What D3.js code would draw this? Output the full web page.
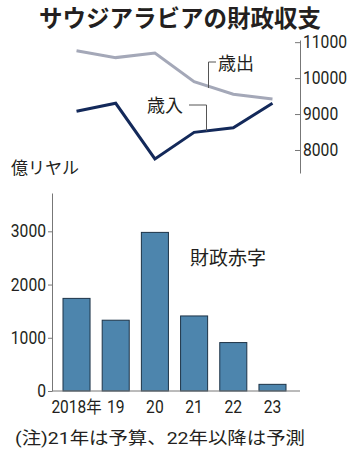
<!DOCTYPE html>
<html><head><meta charset="utf-8">
<script src="https://cdn.jsdelivr.net/npm/d3@7"></script>
<style>
body{margin:0;background:#fff;}
text{font-family:Roboto,"Noto Sans CJK JP",sans-serif;fill:#231f20;}
.cjk{font-family:"Noto Sans CJK JP",sans-serif;}
</style></head><body>
<svg id="c" width="359" height="455"></svg>
<script>
const years = ["2018","2019","2020","2021","2022","2023"];
const yearLabels = ["2018年","19","20","21","22","23"];
const expenditure = [10760, 10570, 10700, 9900, 9550, 9420];
const revenue = [9080, 9300, 7750, 8490, 8620, 9300];
const deficit = [1740, 1330, 2980, 1410, 910, 125];
const topTicks = [8000, 9000, 10000, 11000];
const barTicks = [0, 1000, 2000, 3000];

const svg = d3.select("#c");
const fontTick = 17.5;
const digitW = 8.8;
// narrow digits: compress each label to the reference width
function narrow(sel){
  sel.each(function(){
    const t = d3.select(this), s = t.text();
    let w = 0;
    for (const ch of s) w += /[0-9]/.test(ch) ? digitW : 15;
    t.attr("textLength", w).attr("lengthAdjust","spacingAndGlyphs");
  });
}

// title
svg.append("text").attr("class","cjk").attr("x",180).attr("y",27)
  .attr("text-anchor","middle").attr("font-size",23.5).attr("font-weight","bold")
  .text("サウジアラビアの財政収支");

const x = d3.scaleBand().domain(years).range([57, 292]).paddingInner(0.31).paddingOuter(0.153);
const cx = d => x(d) + x.bandwidth()/2;

// top line chart
const yTop = d3.scaleLinear().domain([7360, 11060]).range([173, 40]);
const axTop = svg.append("g").attr("transform","translate(300,0)")
  .call(d3.axisRight(yTop).tickValues(topTicks).tickSizeInner(-5).tickSizeOuter(0).tickPadding(3).tickFormat(d3.format("d")));
axTop.select(".domain").attr("stroke","#777");
axTop.selectAll(".tick line").attr("stroke","#777");
axTop.selectAll(".tick text").attr("font-size",fontTick).attr("fill","#231f20").attr("font-family",null).call(narrow);

const line = d3.line().x((d,i)=>cx(years[i])).y(d=>yTop(d));
svg.append("path").datum(expenditure).attr("d",line).attr("fill","none")
  .attr("stroke","#a4a8b8").attr("stroke-width",3).attr("stroke-linejoin","miter");
svg.append("path").datum(revenue).attr("d",line).attr("fill","none")
  .attr("stroke","#13295a").attr("stroke-width",3).attr("stroke-linejoin","miter");

// labels with leaders
svg.append("text").attr("class","cjk").attr("x",218).attr("y",70).attr("font-size",18).text("歳出");
svg.append("path").attr("d","M216,62H208.5V88").attr("fill","none").attr("stroke","#555").attr("stroke-width",1);
svg.append("text").attr("class","cjk").attr("x",147).attr("y",112).attr("font-size",18).text("歳入");
svg.append("path").attr("d","M189,105H206.5V131").attr("fill","none").attr("stroke","#555").attr("stroke-width",1);

// unit
svg.append("text").attr("class","cjk").attr("x",11).attr("y",174).attr("font-size",17).text("億リヤル");

// bar chart
const yBar = d3.scaleLinear().domain([0, 3720]).range([391, 193]);
svg.selectAll("rect.bar").data(deficit).join("rect").attr("class","bar")
  .attr("x",(d,i)=>x(years[i])).attr("width",x.bandwidth())
  .attr("y",d=>yBar(d)).attr("height",d=>yBar(0)-yBar(d))
  .attr("fill","#4d85ad").attr("stroke","#1d3347").attr("stroke-width",1);

const axBar = svg.append("g").attr("transform","translate(52,0)")
  .call(d3.axisLeft(yBar).tickValues(barTicks).tickSizeInner(4).tickSizeOuter(0).tickPadding(2).tickFormat(d3.format("d")));
axBar.select(".domain").attr("stroke","#777");
axBar.selectAll(".tick line").attr("stroke","#777");
axBar.selectAll(".tick text").attr("font-size",fontTick).attr("fill","#231f20").attr("font-family",null).call(narrow);

// baseline
svg.append("line").attr("x1",52).attr("x2",300).attr("y1",yBar(0)).attr("y2",yBar(0))
  .attr("stroke","#777").attr("stroke-width",1);

// x labels
svg.selectAll("text.xl").data(yearLabels).join("text").attr("class","xl")
  .attr("x",(d,i)=>cx(years[i])).attr("y",413).attr("text-anchor","middle")
  .attr("font-size",fontTick).text(d=>d).call(narrow);

svg.append("text").attr("class","cjk").attr("x",190).attr("y",265).attr("font-size",19).text("財政赤字");

// note
svg.append("text").attr("x",15).attr("y",444).attr("font-size",17)
  .attr("textLength",290).attr("lengthAdjust","spacingAndGlyphs")
  .text("(注)21年は予算、22年以降は予測");
</script></body></html>
